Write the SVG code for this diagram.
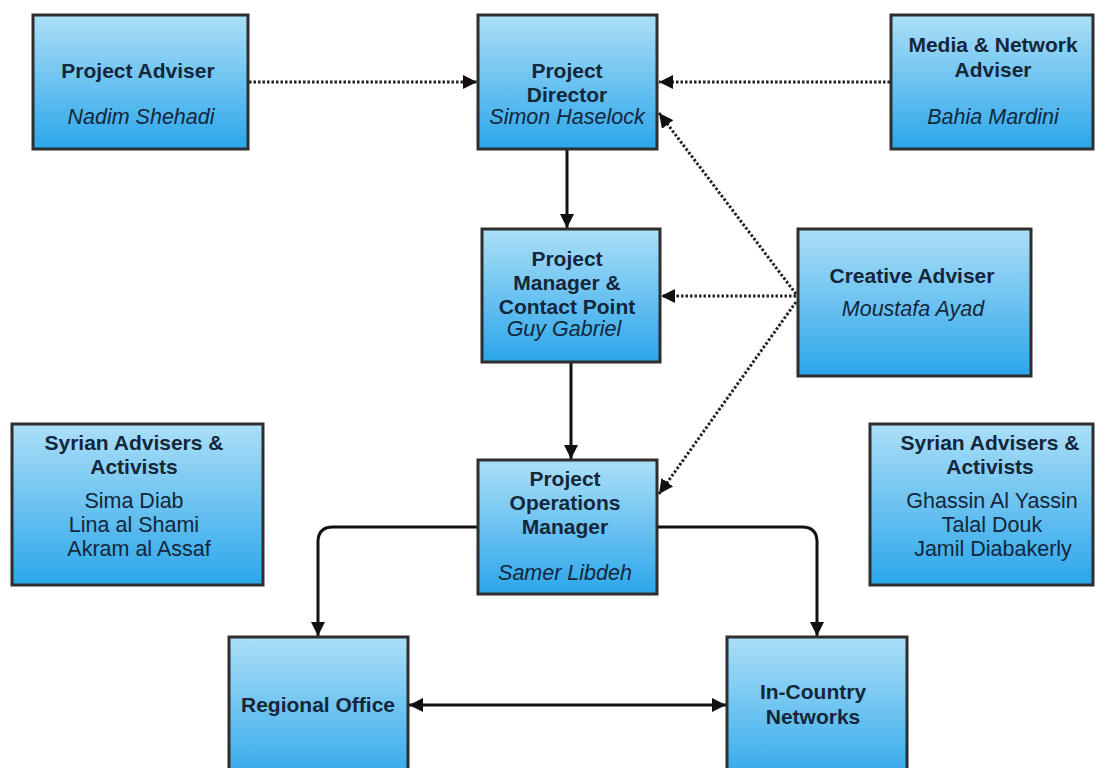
<svg xmlns="http://www.w3.org/2000/svg" width="1106" height="768" viewBox="0 0 1106 768">
<defs>
<linearGradient id="g" x1="0" y1="0" x2="0" y2="1">
<stop offset="0" stop-color="#acdff7"/>
<stop offset="1" stop-color="#2ba6ea"/>
</linearGradient>
<marker id="ah" viewBox="0 0 10 10" refX="10" refY="5" markerWidth="4.8" markerHeight="4.8" orient="auto-start-reverse" markerUnits="strokeWidth">
<path d="M0,0 L10,5 L0,10 Z" fill="#111"/>
</marker>
<marker id="ahd" viewBox="0 0 10 10" refX="10" refY="5" markerWidth="4.8" markerHeight="4.8" orient="auto" markerUnits="strokeWidth">
<path d="M0,0 L10,5 L0,10 Z" fill="#111"/>
</marker>
</defs>
<style>
.box{fill:url(#g);stroke:#2e2e2e;stroke-width:3}
.t{font-family:"Liberation Sans",Arial,sans-serif;font-size:21.5px;fill:#14263a;text-anchor:middle}
.b{font-weight:bold;font-size:21px}
.i{font-style:italic}
.solid{fill:none;stroke:#111;stroke-width:3}
.dot{fill:none;stroke:#222;stroke-width:3;stroke-dasharray:2.5 2}
</style>
<rect width="1106" height="768" fill="#fff"/>
<g id="connectors">
<line class="dot" x1="249" y1="82" x2="477" y2="82" marker-end="url(#ahd)"/>
<line class="dot" x1="890" y1="82" x2="659" y2="82" marker-end="url(#ahd)"/>
<line class="dot" x1="796" y1="296" x2="661" y2="296" marker-end="url(#ahd)"/>
<line class="dot" x1="796" y1="294" x2="659" y2="113" marker-end="url(#ahd)"/>
<line class="dot" x1="796" y1="302" x2="659" y2="494" marker-end="url(#ahd)"/>
<line class="solid" x1="567" y1="150" x2="567" y2="228" marker-end="url(#ahd)"/>
<line class="solid" x1="571" y1="363" x2="571" y2="459" marker-end="url(#ahd)"/>
<path class="solid" d="M477,527 L333,527 Q318,527 318,542 L318,636" marker-end="url(#ahd)"/>
<path class="solid" d="M658,527 L802,527 Q817,527 817,542 L817,636" marker-end="url(#ahd)"/>
<line class="solid" x1="409" y1="705" x2="726" y2="705" marker-start="url(#ah)" marker-end="url(#ah)"/>
</g>
<g id="project-adviser">
<rect class="box" x="33" y="15" width="215" height="134"/>
<text class="t b" x="138" y="78">Project Adviser</text>
<text class="t i" x="141" y="124">Nadim Shehadi</text>
</g>
<g id="project-director">
<rect class="box" x="478" y="15" width="179" height="134"/>
<text class="t b" x="567" y="78">Project</text>
<text class="t b" x="567" y="102">Director</text>
<text class="t i" x="567" y="124">Simon Haselock</text>
</g>
<g id="media-adviser">
<rect class="box" x="891" y="15" width="202" height="134"/>
<text class="t b" x="993" y="52">Media &amp; Network</text>
<text class="t b" x="993" y="77">Adviser</text>
<text class="t i" x="993" y="124">Bahia Mardini</text>
</g>
<g id="project-manager">
<rect class="box" x="482" y="229" width="178" height="133"/>
<text class="t b" x="567" y="266">Project</text>
<text class="t b" x="567" y="290">Manager &amp;</text>
<text class="t b" x="567" y="314">Contact Point</text>
<text class="t i" x="564" y="336">Guy Gabriel</text>
</g>
<g id="creative-adviser">
<rect class="box" x="798" y="229" width="233" height="147"/>
<text class="t b" x="912" y="283">Creative Adviser</text>
<text class="t i" x="913" y="316">Moustafa Ayad</text>
</g>
<g id="syrian-left">
<rect class="box" x="12" y="424" width="251" height="161"/>
<text class="t b" x="134" y="450">Syrian Advisers &amp;</text>
<text class="t b" x="134" y="474">Activists</text>
<text class="t" x="134" y="508">Sima Diab</text>
<text class="t" x="134" y="532">Lina al Shami</text>
<text class="t" x="139" y="556">Akram al Assaf</text>
</g>
<g id="syrian-right">
<rect class="box" x="870" y="424" width="223" height="161"/>
<text class="t b" x="990" y="450">Syrian Advisers &amp;</text>
<text class="t b" x="990" y="474">Activists</text>
<text class="t" x="992" y="508">Ghassin Al Yassin</text>
<text class="t" x="992" y="532">Talal Douk</text>
<text class="t" x="993" y="556">Jamil Diabakerly</text>
</g>
<g id="ops-manager">
<rect class="box" x="478" y="460" width="179" height="134"/>
<text class="t b" x="565" y="486">Project</text>
<text class="t b" x="565" y="510">Operations</text>
<text class="t b" x="565" y="534">Manager</text>
<text class="t i" x="565" y="580">Samer Libdeh</text>
</g>
<g id="regional-office">
<rect class="box" x="229" y="637" width="179" height="150"/>
<text class="t b" x="318" y="712">Regional Office</text>
</g>
<g id="in-country">
<rect class="box" x="727" y="637" width="180" height="150"/>
<text class="t b" x="813" y="699">In-Country</text>
<text class="t b" x="813" y="724">Networks</text>
</g>
</svg>
